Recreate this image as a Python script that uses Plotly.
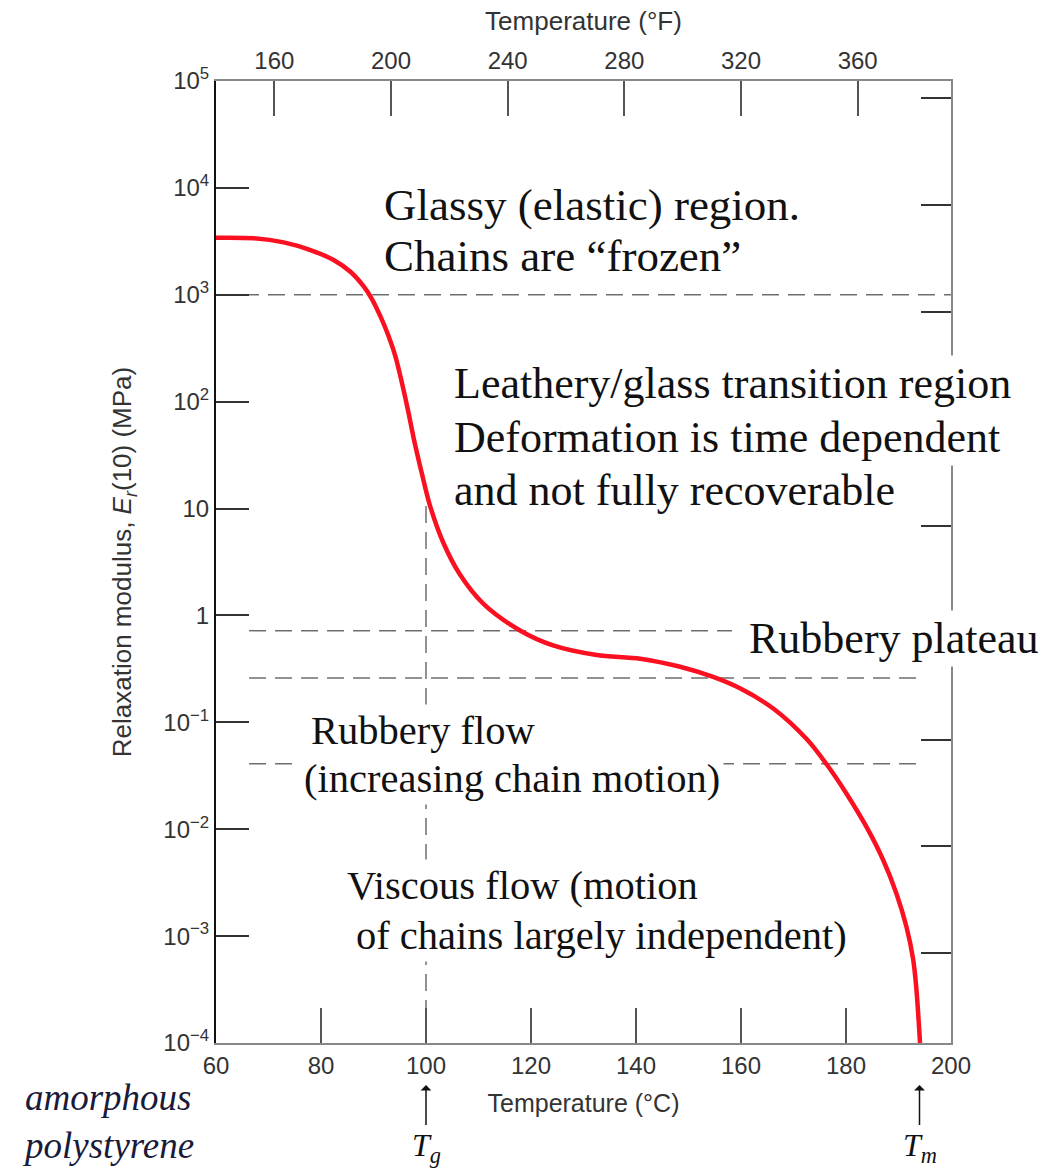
import numpy as np
import plotly.graph_objects as go

# ---- data ----
temp_c = [60, 67.2, 72.9, 78.0, 82.4, 85.6, 88.1, 89.7, 91.3, 92.9, 94.2, 95.4,
          96.7, 97.6, 99.2, 100.8, 103.3, 106.5, 110.9, 117.9, 124.2, 132.5, 140.8,
          148.4, 154.7, 159.8, 166.2, 172.5, 176.3, 180.1, 183.9, 187.1, 189.6,
          191.5, 192.8, 193.4, 194.1]
modulus_mpa = [3412, 3373, 3090, 2618, 2113, 1641, 1202, 912, 631, 407, 263, 151,
               77.6, 46.8, 21.4, 10.5, 4.79, 2.40, 1.29, 0.724, 0.525, 0.427, 0.394,
               0.331, 0.266, 0.208, 0.134, 0.0697, 0.0405, 0.0215, 0.0105, 0.00513, 0.00251,
               0.00123, 0.000603, 0.000324, 0.0001]

# horizontal dashed guide lines: level (MPa), start T, end T
guide_levels = [1000, 0.72, 0.26, 0.041]
guide_start = [60, 66.3, 66.3, 66.3]
guide_end = [200, 158.3, 194.5, 194.5]

Tg = 100
Tm = 194
Tg_top_modulus = 12

x_ticks_c = [60, 80, 100, 120, 140, 160, 180, 200]
x_ticks_f = [160, 200, 240, 280, 320, 360]
y_exponents = [5, 4, 3, 2, 1, 0, -1, -2, -3, -4]
y_ticktext = ["10<sup>5</sup>", "10<sup>4</sup>", "10<sup>3</sup>", "10<sup>2</sup>", "10", "1",
              "10<sup>\u22121</sup>", "10<sup>\u22122</sup>", "10<sup>\u22123</sup>", "10<sup>\u22124</sup>"]
psi_exponents = [-1, 0, 1, 2, 3, 4, 5, 6, 7]
MPA_TO_PSI = 145.04

# region text lines: (text, left temperature, log10 modulus of line centre, font size)
region_lines = [
    ("Glassy (elastic) region.", 91.24, 3.839, 45),
    ("Chains are \u201cfrozen\u201d", 91.24, 3.362, 45),
    ("Leathery/glass transition region", 104.57, 2.174, 44),
    ("Deformation is time dependent", 104.57, 1.669, 44),
    ("and not fully recoverable", 104.57, 1.173, 44),
    ("Rubbery plateau", 160.76, -0.211, 44),
    ("Rubbery flow", 77.33, -1.072, 40.5),
    ("(increasing chain motion)", 76.0, -1.521, 40.5),
    ("Viscous flow (motion", 84.19, -2.531, 40.5),
    ("of chains largely independent)", 85.9, -2.990, 40.5),
]

SERIF = "Liberation Serif, Times New Roman, serif"
SANS = "Liberation Sans, Arial, sans-serif"
GUIDE = dict(color="#6e6e6e", width=1.5, dash="17px,9px")

fig = go.Figure()

for lvl, x0, x1 in zip(guide_levels, guide_start, guide_end):
    fig.add_trace(go.Scatter(x=[x0, x1], y=[lvl, lvl], mode="lines", line=GUIDE,
                             hoverinfo="skip", showlegend=False))
fig.add_trace(go.Scatter(x=[Tg, Tg], y=[1e-4, Tg_top_modulus], mode="lines", line=GUIDE,
                         hoverinfo="skip", showlegend=False))

fig.add_trace(go.Scatter(x=temp_c, y=modulus_mpa, mode="lines",
                         line=dict(color="#fa1020", width=4.5, shape="spline", smoothing=0.9),
                         showlegend=False))

# dummy trace to instantiate the secondary (°F / psi) axes
fig.add_trace(go.Scatter(x=[None], y=[None], xaxis="x2", yaxis="y2", showlegend=False,
                         hoverinfo="skip"))

tickfont = dict(family=SANS, size=24, color="#333")

fig.update_layout(
    width=1044, height=1168,
    margin=dict(l=216, r=93, t=81, b=125),
    paper_bgcolor="white", plot_bgcolor="white",
    xaxis=dict(range=[60, 200], tickvals=x_ticks_c, ticktext=[str(v) for v in x_ticks_c],
               ticks="inside", ticklen=35, tickwidth=1.5, tickcolor="#555",
               showline=True, linecolor="#888", linewidth=2, showgrid=False, zeroline=False,
               tickfont=tickfont,
               title=dict(text="Temperature (\u00b0C)", font=dict(family=SANS, size=25, color="#333"),
                          standoff=17)),
    xaxis2=dict(range=[140, 392], overlaying="x", side="top", anchor="y",
                tickvals=x_ticks_f, ticktext=[str(v) for v in x_ticks_f],
                ticks="inside", ticklen=35, tickwidth=1.5, tickcolor="#555",
                showline=True, linecolor="#888", linewidth=2, showgrid=False, zeroline=False,
                tickfont=tickfont,
                title=dict(text="Temperature (\u00b0F)", font=dict(family=SANS, size=26, color="#333"),
                           standoff=9)),
    yaxis=dict(type="log", range=[-4, 5], tickvals=[10.0 ** e for e in y_exponents],
               ticktext=y_ticktext, ticks="inside", ticklen=33, tickwidth=1.5, tickcolor="#333",
               showline=True, linecolor="#111", linewidth=2, showgrid=False, zeroline=False,
               tickfont=dict(family=SANS, size=24, color="#333"),
               title=dict(text="Relaxation modulus, <i>E</i><sub><i>r</i></sub>(10) (MPa)",
                          font=dict(family=SANS, size=26, color="#333"), standoff=24)),
    yaxis2=dict(type="log", overlaying="y", side="right", anchor="x",
                range=[np.log10(1e-4 * MPA_TO_PSI), np.log10(1e5 * MPA_TO_PSI)],
                tickvals=[10.0 ** e for e in psi_exponents], showticklabels=False,
                ticks="inside", ticklen=30, tickwidth=1.5, tickcolor="#333",
                showline=True, linecolor="#888", linewidth=2, showgrid=False, zeroline=False),
)

# draw bottom lines first so each upper line's white box never hides text below it
for text, tx, ly, fs in reversed(region_lines):
    fig.add_annotation(x=tx, y=ly, xref="x", yref="y", text=text, showarrow=False,
                       xanchor="left", yanchor="middle", align="left",
                       font=dict(family=SERIF, size=fs, color="#111"),
                       bgcolor="white", borderpad=3)

fig.add_annotation(x=-0.266, y=-0.0815, xref="paper", yref="paper",
                   text="<i>amorphous</i><br><i>polystyrene</i>", showarrow=False,
                   xanchor="left", yanchor="middle", align="left",
                   font=dict(family=SERIF, size=37, color="#1a1a3a"))

for tval, lab in [(Tg, "<i>T</i><sub><i>g</i></sub>"), (Tm, "<i>T</i><sub><i>m</i></sub>")]:
    fig.add_annotation(x=tval, y=-0.0437, xref="x", yref="paper", text=lab,
                       showarrow=True, arrowhead=1, arrowsize=1.2, arrowwidth=1.5,
                       arrowcolor="#111", ax=0, ay=62,
                       font=dict(family=SERIF, size=32, color="#111"))

fig.write_html("out.html")
